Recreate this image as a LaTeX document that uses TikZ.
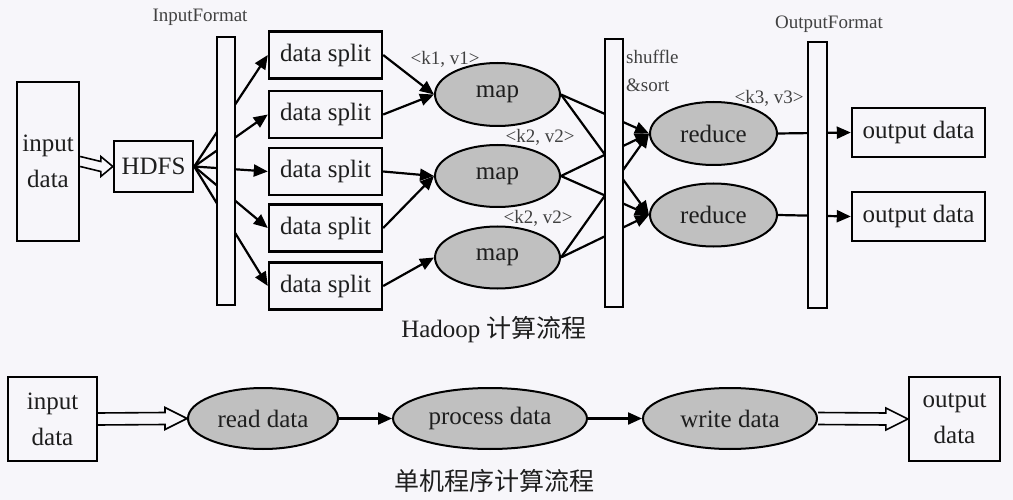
\documentclass[tikz,border=0pt]{standalone}
\usepackage{fontspec}
\setmainfont{Liberation Serif}
\newfontfamily\cjk{Noto Sans CJK SC}
\usetikzlibrary{arrows.meta,shapes.geometric,calc}
\definecolor{bg}{RGB}{247,246,250}
\definecolor{ellfill}{RGB}{192,192,192}
\definecolor{ink}{RGB}{30,30,30}
\definecolor{lbl}{RGB}{65,65,65}
% hollow double arrow: from, to, half shaft, half head, head length
\newcommand\hollowarr[5]{%
  \draw[line width=1.6pt, fill=bg] ($(#1)+(0,#3)$) -- ($(#2)+(-#5,#3)$) -- ($(#2)+(-#5,#4)$) -- (#2)
    -- ($(#2)+(-#5,-#4)$) -- ($(#2)+(-#5,-#3)$) -- ($(#1)+(0,-#3)$);
}
\begin{document}
\begin{tikzpicture}[x=1pt,y=-1pt,
  every node/.style={text=ink},
  box/.style={draw, line width=2.4pt, inner sep=0pt, align=center, font=\fontsize{25}{36}\selectfont},
  ell/.style={ellipse, draw, line width=2pt, fill=ellfill, inner sep=0pt, font=\fontsize{25}{30}\selectfont},
  barbox/.style={draw, line width=2.4pt, fill=bg, inner sep=0pt, minimum width=18pt},
  lab/.style={font=\fontsize{19}{28}\selectfont, text=lbl, inner sep=0pt},
  ttl/.style={font=\fontsize{25}{30}\selectfont, inner sep=0pt},
  conn/.style={line width=2.2pt, -{Triangle[length=14pt,width=12pt]}}
]
\fill[bg] (0,0) rectangle (1013,500);
\useasboundingbox (0,0) rectangle (1013,500);

% ---------- Hadoop flow ----------
\node[box, minimum width=62pt, minimum height=159pt] (inbox) at (48,161.5) {input\\data};
\node[box, minimum width=79pt, minimum height=51pt] (hdfs) at (153.5,166.5) {HDFS};

\foreach \i/\yy in {1/55,2/114.5,3/171.5,4/228,5/286}{
  \node[box, minimum width=113pt, minimum height=47pt] (ds\i) at (325.5,\yy) {data split};
}

\node[ell, minimum width=125pt, minimum height=63pt] (map1) at (497.5,94.5) {map};
\node[ell, minimum width=125pt, minimum height=62pt] (map2) at (497.5,176) {map};
\node[ell, minimum width=125pt, minimum height=62pt] (map3) at (497.5,257.5) {map};

\node[ell, minimum width=127pt, minimum height=63pt] (red1) at (713.5,133.5) {reduce};
\node[ell, minimum width=127pt, minimum height=63pt] (red2) at (713.5,215) {reduce};

\node[box, minimum width=133pt, minimum height=49pt] (out1) at (918.5,132.5) {output data};
\node[box, minimum width=133pt, minimum height=49pt] (out2) at (918.5,216.5) {output data};

\hollowarr{inbox.east}{hdfs.west}{5}{10}{12}

\foreach \i in {1,...,5}{ \draw[conn] (hdfs.east) -- (ds\i.west); }
\draw[conn] (ds1.east) -- (map1.west);
\draw[conn] (ds2.east) -- (map1.west);
\draw[conn] (ds3.east) -- (map2.west);
\draw[conn] (ds4.east) -- (map2.west);
\draw[conn] (ds5.east) -- (map3.west);
\foreach \m in {1,2,3}{
  \draw[conn] (map\m.east) -- (red1.west);
  \draw[conn] (map\m.east) -- (red2.west);
}
\draw[conn] (red1.east) -- (out1.west);
\draw[conn] (red2.east) -- (out2.west);

\node[barbox, minimum height=268pt] (ifbar) at (226,171) {};
\node[barbox, minimum height=268pt] (shbar) at (614,173) {};
\node[barbox, minimum width=19pt, minimum height=266pt] (ofbar) at (817.5,175) {};

\node[lab] (iflab) at (200,17) {InputFormat};
\node[lab] (oflab) at (829,24) {OutputFormat};
\node[lab, align=left, anchor=west] (shlab) at (626,71) {shuffle\\\&sort};
\node[lab] (kv1) at (445,59) {<k1, v1>};
\node[lab] (kv2) at (540,137) {<k2, v2>};
\node[lab] (kv3) at (538,218) {<k2, v2>};
\node[lab] (kv4) at (769,98) {<k3, v3>};

\node[ttl] (t1) at (494,330) {Hadoop {\cjk 计算流程}};

% ---------- single machine flow ----------
\node[box, minimum width=89pt, minimum height=84pt] (bin) at (52.5,419) {input\\data};
\node[ell, minimum width=150pt, minimum height=61pt] (read) at (263,418.5) {read data};
\node[ell, minimum width=194pt, minimum height=61pt] (proc) at (490,418.5) {process data};
\node[ell, minimum width=174pt, minimum height=61pt] (write) at (730,418.5) {write data};
\node[box, minimum width=91pt, minimum height=84pt] (bout) at (954.5,419) {output\\data};

\hollowarr{bin.east}{read.west}{6}{11}{22}
\hollowarr{write.east}{bout.west}{6}{11}{22}
\draw[conn] (read.east) -- (proc.west);
\draw[conn] (proc.east) -- (write.west);

\node[ttl] (t2) at (494,481) {\cjk 单机程序计算流程};
\end{tikzpicture}
\end{document}
